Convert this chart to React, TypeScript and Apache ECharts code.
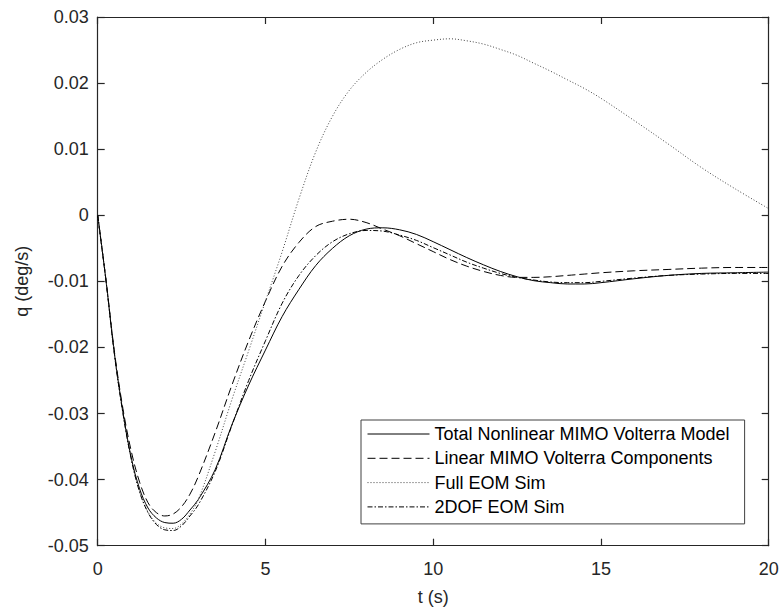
import React, { useEffect, useRef } from "react";
import * as echarts from "echarts";

const time = [0, 0.25, 0.5, 0.75, 1, 1.25, 1.5, 1.75, 2, 2.25, 2.5, 2.75, 3, 3.5, 4, 4.5, 5, 5.5, 6, 6.5, 7, 7.5, 8, 8.5, 9, 9.5, 10, 10.5, 11, 11.5, 12, 12.5, 13, 13.5, 14, 14.5, 15, 16, 17, 18, 19, 20];

const totalNonlinear = [0, -0.0100, -0.0210, -0.0297, -0.0367, -0.0414, -0.0443, -0.0458, -0.0465, -0.0466, -0.0460, -0.0446, -0.0430,
  -0.0385, -0.0317, -0.0257, -0.0204, -0.0153, -0.0112, -0.0076, -0.0050, -0.0031, -0.0021, -0.0019, -0.0022, -0.0029, -0.0040, -0.0052, -0.0064, -0.0075, -0.0085, -0.0093, -0.0099, -0.0102, -0.0104, -0.0104, -0.0102,
  -0.0096, -0.0091, -0.0088, -0.0087, -0.0086];

const linearComponents = [0, -0.0099, -0.0207, -0.0292, -0.0357, -0.0404, -0.0435, -0.0450, -0.0455, -0.0452, -0.0441, -0.0422, -0.0395,
  -0.0329, -0.0257, -0.0190, -0.0130, -0.0077, -0.0041, -0.0017, -0.0009, -0.0006, -0.0011, -0.0021, -0.0031, -0.0043, -0.0055, -0.0067, -0.0077, -0.0085, -0.0091, -0.0094, -0.0094, -0.0093, -0.0091, -0.0089, -0.0087,
  -0.0084, -0.0082, -0.0080, -0.0079, -0.0079];

const fullEomSim = [0, -0.0100, -0.0211, -0.0299, -0.0369, -0.0418, -0.0449, -0.0466, -0.0473, -0.0474, -0.0467, -0.0452, -0.0430,
  -0.0358, -0.0279, -0.0205, -0.0130, -0.0055, 0.0025, 0.0096, 0.0150, 0.0189, 0.0216, 0.0236, 0.0251, 0.0261, 0.0265, 0.0267, 0.0264, 0.0259, 0.0251, 0.0242, 0.0230, 0.0218, 0.0205, 0.0192, 0.0177,
  0.0143, 0.0108, 0.0072, 0.0040, 0.0010];

const twoDofEomSim = [0, -0.0100, -0.0211, -0.0299, -0.0369, -0.0419, -0.0450, -0.0468, -0.0476, -0.0477, -0.0470, -0.0455, -0.0438,
  -0.0388, -0.0318, -0.0250, -0.0190, -0.0133, -0.0091, -0.0061, -0.0040, -0.0028, -0.0023, -0.0024, -0.0030, -0.0038, -0.0049, -0.0060, -0.0071, -0.0080, -0.0088, -0.0094, -0.0098, -0.0101, -0.0102, -0.0102, -0.0100,
  -0.0095, -0.0091, -0.0089, -0.0088, -0.0088];

const seriesNames = [
  "Total Nonlinear MIMO Volterra Model",
  "Linear MIMO Volterra Components",
  "Full EOM Sim",
  "2DOF EOM Sim",
];

const xRange = { min: 0, max: 20, interval: 5 };
const yRange = { min: -0.05, max: 0.03, interval: 0.01 };

const FONT = "'Liberation Sans', Arial, Helvetica, sans-serif";
const AX = "#262626";

function pairs(vals: number[]) {
  return time.map((t, i) => [t, vals[i]]);
}

export default function App() {
  const ref = useRef<HTMLDivElement>(null);
  useEffect(() => {
    document.body.style.margin = "0";
    const chart = echarts.init(ref.current!, undefined, { renderer: "svg" });
    const axisCommon = {
      type: "value" as const,
      splitLine: { show: false },
      axisLine: { show: true, onZero: false, lineStyle: { color: AX, width: 1.2 } },
      axisTick: { show: true, inside: true, length: 7, lineStyle: { color: AX, width: 1.2 } },
    };
    const labelStyle = { fontSize: 18, color: AX, fontFamily: FONT };
    const styles: any[] = [
      { color: "#000", width: 1, type: "solid" },
      { color: "#000", width: 1, type: [8, 4] },
      { color: "#444", width: 1, type: [1, 2] },
      { color: "#000", width: 1, type: [5, 2, 1.5, 2] },
    ];
    const dataSets = [totalNonlinear, linearComponents, fullEomSim, twoDofEomSim];
    chart.setOption({
      animation: false,
      backgroundColor: "#fff",
      grid: { left: 97.7, top: 17, right: 13.3, bottom: 66.3, containLabel: false },
      xAxis: [
        {
          ...axisCommon,
          ...xRange,
          position: "bottom",
          axisLabel: { ...labelStyle, margin: 14 },
          name: "t (s)",
          nameLocation: "middle",
          nameGap: 42,
          nameTextStyle: { ...labelStyle },
        },
        {
          ...axisCommon,
          ...xRange,
          position: "top",
          axisLabel: { show: false },
        },
      ],
      yAxis: [
        {
          ...axisCommon,
          ...yRange,
          position: "left",
          axisLabel: {
            ...labelStyle,
            margin: 9,
            formatter: (v: number) => String(parseFloat(v.toFixed(2))),
          },
          name: "q (deg/s)",
          nameLocation: "middle",
          nameGap: 67,
          nameTextStyle: { ...labelStyle },
        },
        {
          ...axisCommon,
          ...yRange,
          position: "right",
          axisLabel: { show: false },
        },
      ],
      legend: {
        left: 361,
        top: 420,
        orient: "vertical",
        backgroundColor: "#fff",
        borderColor: "#404040",
        borderWidth: 1,
        borderRadius: 0,
        padding: [5, 15, 8, 6],
        itemGap: 6.3,
        itemWidth: 62,
        itemHeight: 14,
        itemStyle: { opacity: 0, borderWidth: 0 },
        lineStyle: { width: 1 },
        textStyle: { ...labelStyle, color: "#000" },
        data: seriesNames,
      },
      series: seriesNames.map((name, i) => ({
        name,
        type: "line",
        data: pairs(dataSets[i]),
        showSymbol: false,
        symbol: "none",
        smooth: 0.35,
        lineStyle: styles[i],
        itemStyle: { color: styles[i].color },
        emphasis: { disabled: true },
      })),
    });
    return () => chart.dispose();
  }, []);
  return (
    <div
      ref={ref}
      style={{ position: "absolute", left: 0, top: 0, width: 782, height: 612 }}
    />
  );
}
